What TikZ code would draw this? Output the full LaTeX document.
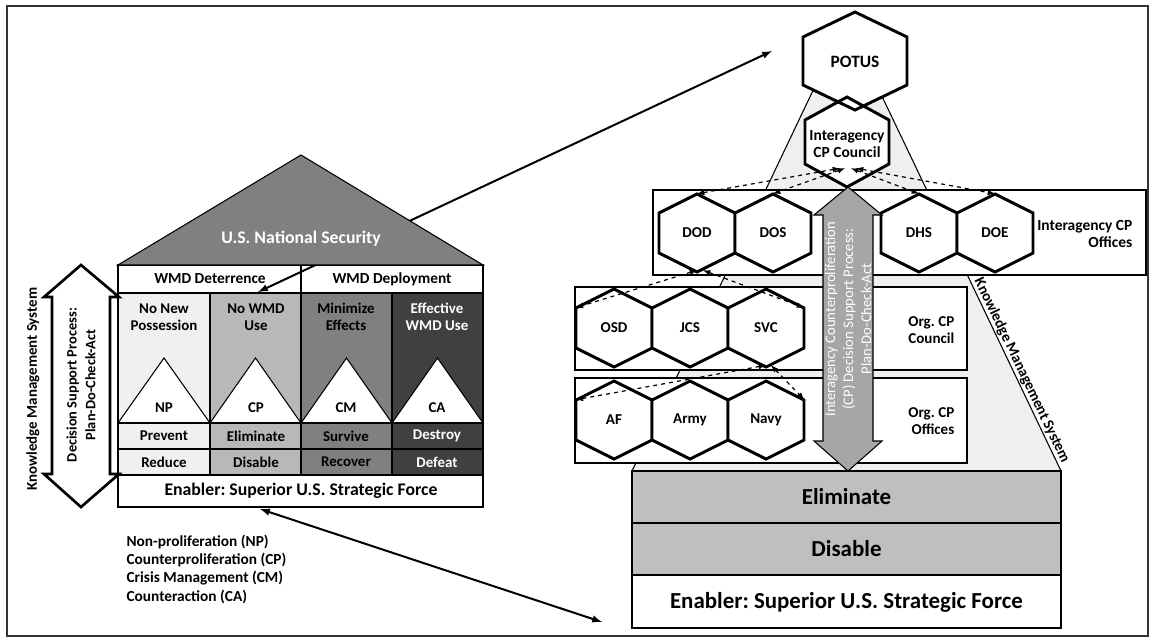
\documentclass[tikz,border=0pt]{standalone}
\usepackage{fontspec}
\setmainfont{Carlito}
\usepackage{tikz}
\usetikzlibrary{arrows,positioning,calc}
\frenchspacing

\definecolor{roofgray}{HTML}{808080}
\definecolor{npgray}{HTML}{F0F0F0}
\definecolor{cpgray}{HTML}{B8B8B8}
\definecolor{cmgray}{HTML}{808080}
\definecolor{cagray}{HTML}{404040}
\definecolor{kmsgray}{HTML}{EFEFEF}
\definecolor{blockgray}{HTML}{BFBFBF}
\definecolor{dspgray}{HTML}{A6A6A6}

\tikzset{
  lbl/.style={font=\bfseries\fontsize{11.2}{12.75}\selectfont, align=center, inner sep=1pt},
  hexlbl/.style={font=\bfseries\fontsize{11.3}{13}\selectfont, align=center},
  biglbl/.style={font=\bfseries\fontsize{17.2}{20}\selectfont},
  hexcell/.style={hexlbl, minimum width=57pt, minimum height=30pt, inner sep=0pt},
  hexline/.style={line width=2.2pt, line join=miter},
  cell/.style={line width=0.8pt},
  link/.style={<->, >=latex, line width=1.5pt},
  dlink/.style={<->, >=latex, dashed, line width=0.9pt},
}

\newcommand{\hexpath}[5]{(#1-#3,#2-#4) -- (#1,#2-#5) -- (#1+#3,#2-#4) -- (#1+#3,#2+#4) -- (#1,#2+#5) -- (#1-#3,#2+#4) -- cycle}

\begin{document}
\begin{tikzpicture}[x=0.75pt, y=-0.75pt]
\useasboundingbox (0,0) rectangle (1155,640);
\draw[line width=1.5pt, draw=black!80] (7,6) rectangle (1148,636);

\fill[npgray] (118,293) rectangle (210,475);
\fill[cpgray] (210,293) rectangle (301,475);
\fill[cmgray] (301,293) rectangle (392,475);
\fill[cagray] (392,293) rectangle (483,475);
\draw[cell, fill=white] (118,423) -- (164,358) -- (210,423) -- cycle;
\draw[cell, fill=white] (210,423) -- (255.5,358) -- (301,423) -- cycle;
\draw[cell, fill=white] (301,423) -- (346.5,358) -- (392,423) -- cycle;
\draw[cell, fill=white] (392,423) -- (437.5,358) -- (483,423) -- cycle;
\draw[cell] (118,265) rectangle (483,507);
\draw[cell] (118,293) -- (483,293) (118,423) -- (483,423) (118,449) -- (483,449) (118,475) -- (483,475);
\draw[cell] (210,293) -- (210,475) (301,265) -- (301,475) (392,293) -- (392,475);

\coordinate (usetip) at (258,292);
\coordinate (potustip) at (772,51);
\coordinate (enablertip) at (260,509);
\coordinate (forcetip) at (602,622);
\draw[link] (usetip) -- (potustip);
\draw[cell, fill=roofgray] (118,265) -- (301,155) -- (483,265) -- cycle;

\node[lbl, font=\bfseries\fontsize{13.3}{15}\selectfont, text=white] (natsec) at (301,239) {U.S. National Security};
\node[lbl, font=\bfseries\fontsize{11.5}{13}\selectfont] (deter) at (210,279) {WMD Deterrence};
\node[lbl, font=\bfseries\fontsize{11.5}{13}\selectfont] (deploy) at (392,279) {WMD Deployment};
\node[lbl] (nonew) at (164,317) {No New\\Possession};
\node[lbl] (nouse) at (256,317) {No WMD\\Use};
\node[lbl] (minim) at (346,317) {Minimize\\Effects};
\node[lbl, text=white] (effuse) at (437,317) {Effective\\WMD Use};
\node[lbl] (np) at (164,408) {NP};
\node[lbl] (cp) at (256,408) {CP};
\node[lbl] (cm) at (346,408) {CM};
\node[lbl] (ca) at (437,408) {CA};
\node[lbl] (prevent) at (164,436) {Prevent};
\node[lbl] (elim) at (256,436) {Eliminate};
\node[lbl] (survive) at (346,436) {Survive};
\node[lbl, text=white] (destroy) at (437,436) {Destroy};
\node[lbl] (reduce) at (164,462) {Reduce};
\node[lbl] (disab) at (256,462) {Disable};
\node[lbl] (recover) at (346,462) {Recover};
\node[lbl, text=white] (defeat) at (437,462) {Defeat};
\node[lbl, font=\bfseries\fontsize{13.3}{15}\selectfont] (enabler) at (301,491) {Enabler: Superior U.S. Strategic Force};

\draw[line width=2pt, fill=white] (81,265) -- (119,297) -- (110,297) -- (110,474) -- (119,474) -- (81,507) -- (44,474) -- (52,474) -- (52,297) -- (44,297) -- cycle;
\node[lbl, rotate=90, font=\bfseries\fontsize{10.8}{14}\selectfont] (dsp) at (81,385) {Decision Support Process:\\Plan-Do-Check-Act};
\node[lbl, rotate=90, font=\bfseries\fontsize{11.2}{13}\selectfont] (kmsleft) at (33,389) {Knowledge Management System};
\node[lbl, font=\bfseries\fontsize{11.5}{13.75}\selectfont, align=left, anchor=west] (legend) at (125,569) {Non-proliferation (NP)\\Counterproliferation (CP)\\Crisis Management (CM)\\Counteraction (CA)};

\draw[cell, fill=kmsgray] (846,21) -- (632,471) -- (1061,471) -- cycle;
\path (968,277) -- (1061,471) node[lbl, midway, sloped, above] (kmsright) {Knowledge Management System};
\draw[cell, fill=white] (653,190) rectangle (1146,275);
\draw[cell, fill=white] (575,287) rectangle (967,370);
\draw[cell, fill=white] (575,378) rectangle (967,463);

\draw[hexline, fill=white] \hexpath{697}{233}{38}{20}{39};
\draw[hexline, fill=white] \hexpath{773}{233}{38}{20}{39};
\draw[hexline, fill=white] \hexpath{919}{233}{38}{20}{39};
\draw[hexline, fill=white] \hexpath{995}{233}{38}{20}{39};
\draw[hexline, fill=white] \hexpath{614}{328}{38}{20}{39};
\draw[hexline, fill=white] \hexpath{690}{328}{38}{20}{39};
\draw[hexline, fill=white] \hexpath{766}{328}{38}{20}{39};
\draw[hexline, fill=white] \hexpath{614}{420}{38}{20}{39};
\draw[hexline, fill=white] \hexpath{690}{420}{38}{20}{39};
\draw[hexline, fill=white] \hexpath{766}{420}{38}{20}{39};
\node[hexcell] (dod) at (697,233) {DOD};
\node[hexcell] (dos) at (773,233) {DOS};
\node[hexcell] (dhs) at (919,233) {DHS};
\node[hexcell] (doe) at (995,233) {DOE};
\node[hexcell] (osd) at (614,328) {OSD};
\node[hexcell] (jcs) at (690,328) {JCS};
\node[hexcell] (svc) at (766,328) {SVC};
\node[hexcell] (af) at (614,420) {AF};
\node[hexcell] (army) at (690,420) {Army};
\node[hexcell] (navy) at (766,420) {Navy};

\fill[white] \hexpath{855}{61}{52}{24}{49};
\fill[white] \hexpath{847}{142}{42}{22}{45};
\draw[hexline] \hexpath{855}{61}{52}{24}{49};
\draw[hexline] \hexpath{847}{142}{42}{22}{45};
\node[hexlbl, font=\bfseries\fontsize{13}{15}\selectfont] (potus) at (855,62) {POTUS};
\node[hexlbl, font=\bfseries\fontsize{11.6}{13}\selectfont, minimum width=62pt, minimum height=33pt, inner sep=0pt] (council) at (847,144) {Interagency\\CP Council};

\draw[cell, fill=dspgray] (848,187) -- (882,215) -- (873,215) -- (873,441) -- (882,441) -- (848,471) -- (814,441) -- (823,441) -- (823,215) -- (814,215) -- cycle;
\node[rotate=90, text=white, font=\fontsize{11}{13.5}\selectfont, align=center] (dsptext) at (848,319) {Interagency Counterproliferation\\(CP) Decision Support Process:\\Plan-Do-Check-Act};

\draw[dlink] ($(council.south)+(-7,2)$) -- ($(dod.north)+(0,-19)$);
\draw[dlink] ($(council.south)+(-2,2)$) -- ($(dos.north)+(0,-19)$);
\draw[dlink] ($(council.south)+(4,2)$) -- ($(dhs.north)+(0,-19)$);
\draw[dlink] ($(council.south)+(9,2)$) -- ($(doe.north)+(0,-19)$);
\draw[dlink] ($(dod.south)+(0,17)$) -- (osd.north west);
\draw[dlink] ($(dod.south)+(6,17)$) -- (svc.north east);
\draw[dlink] ($(svc.south)+(0,17)$) -- (af.north west);
\draw[dlink] ($(svc.south)+(5,17)$) -- (navy.north east);

\node[hexlbl, font=\bfseries\fontsize{11.6}{13}\selectfont, anchor=east, align=right] (iaoffices) at (1137,234) {Interagency CP\\Offices};
\node[hexlbl, anchor=east, align=right] (orgcouncil) at (959,330) {Org. CP\\Council};
\node[hexlbl, anchor=east, align=right] (orgoffices) at (959,421) {Org. CP\\Offices};

\draw[line width=1.6pt, fill=blockgray] (632,471) rectangle (1061,523);
\draw[line width=1.6pt, fill=blockgray] (632,523) rectangle (1061,575);
\draw[line width=1.6pt, fill=white] (632,575) rectangle (1061,628);
\node[biglbl] (eliminate) at (846.5,497) {Eliminate};
\node[biglbl] (disable) at (846.5,549) {Disable};
\node[biglbl] (force) at (846.5,602) {Enabler: Superior U.S. Strategic Force};

\draw[link] (enablertip) -- (forcetip);

\end{tikzpicture}
\end{document}
